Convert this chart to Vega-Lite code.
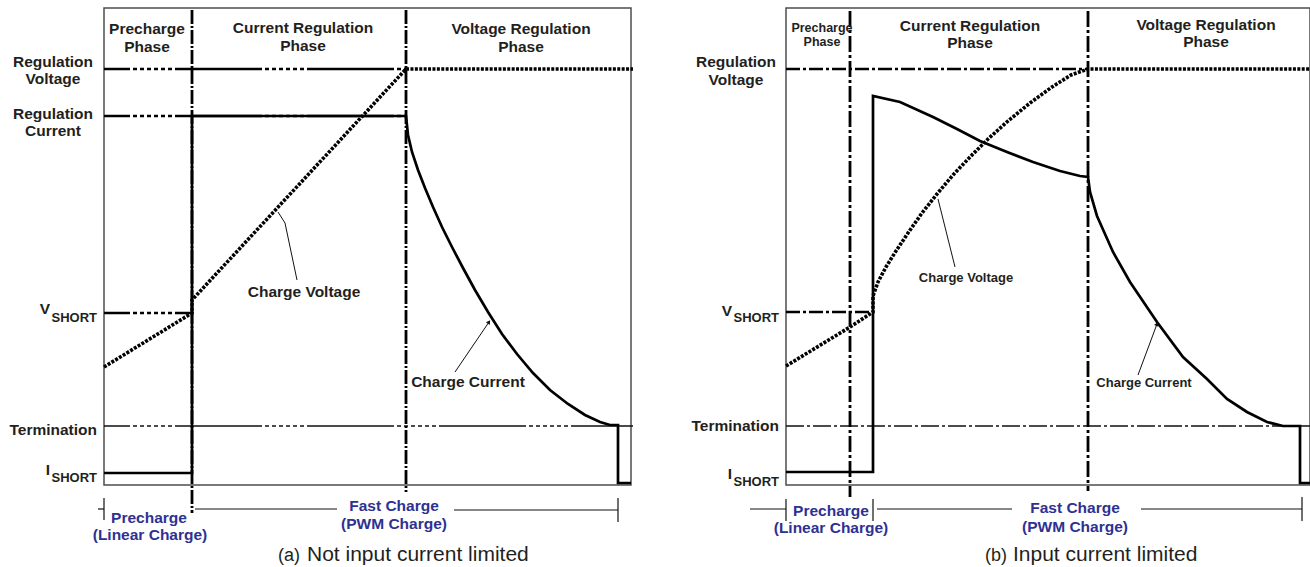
{
  "$schema": "https://vega.github.io/schema/vega-lite/v6.json",
  "padding": {"left": 8, "top": 7, "right": 0, "bottom": 0},
  "bounds": "flush",
  "spacing": 155,
  "config": {"view": {"stroke": "#4d4d4d", "strokeWidth": 1.5}},
  "datasets": {
    "a_ref_heavy": [
      {"name": "Regulation Voltage", "t": 0, "t2": 302, "lvl": 416},
      {"name": "Regulation Current", "t": 0, "t2": 302, "lvl": 369},
      {"name": "V_SHORT", "t": 0, "t2": 88, "lvl": 172}
    ],
    "a_ref_thin": [{"name": "Termination", "t": 0, "t2": 529, "lvl": 59}],
    "a_dividers": [
      {"t": 88, "lvl": 475, "lvl2": -28},
      {"t": 302, "lvl": 475, "lvl2": -7}
    ],
    "a_voltage": [
      {"t": 0, "lvl": 118}, {"t": 88, "lvl": 172}, {"t": 88, "lvl": 185},
      {"t": 302, "lvl": 416}, {"t": 529, "lvl": 416}
    ],
    "a_current": [
      {"t": 0, "lvl": 12}, {"t": 88, "lvl": 12}, {"t": 88, "lvl": 369}, {"t": 302, "lvl": 369},
      {"t": 304, "lvl": 350}, {"t": 308, "lvl": 333}, {"t": 314, "lvl": 315}, {"t": 321, "lvl": 297},
      {"t": 329, "lvl": 278}, {"t": 338, "lvl": 258}, {"t": 348, "lvl": 238}, {"t": 359, "lvl": 217},
      {"t": 371, "lvl": 195}, {"t": 384, "lvl": 173}, {"t": 398, "lvl": 151}, {"t": 413, "lvl": 131},
      {"t": 429, "lvl": 112}, {"t": 446, "lvl": 95}, {"t": 464, "lvl": 81}, {"t": 481, "lvl": 70},
      {"t": 496, "lvl": 63}, {"t": 506, "lvl": 60}, {"t": 514, "lvl": 60}, {"t": 514, "lvl": 2},
      {"t": 527, "lvl": 2}
    ],
    "a_phase": [
      {"label": "Precharge\nPhase", "t": 43, "lvl": 451},
      {"label": "Current Regulation\nPhase", "t": 199, "lvl": 452},
      {"label": "Voltage Regulation\nPhase", "t": 417, "lvl": 451}
    ],
    "a_ylab_center": [
      {"label": "Regulation\nVoltage", "t": -51, "lvl": 418},
      {"label": "Regulation\nCurrent", "t": -51, "lvl": 366}
    ],
    "a_ylab_right": [
      {"label": "Termination", "t": -7, "lvl": 50},
      {"label": "V", "t": -54, "lvl": 171},
      {"label": "I", "t": -54, "lvl": 10}
    ],
    "a_ylab_sub": [
      {"label": "SHORT", "t": -7, "lvl": 163},
      {"label": "SHORT", "t": -7, "lvl": 3}
    ],
    "a_notes": [
      {"label": "Charge Voltage", "t": 200, "lvl": 188},
      {"label": "Charge Current", "t": 364, "lvl": 98}
    ],
    "a_pointers": [
      {"t": 174, "lvl": 273, "t2": 181, "lvl2": 262},
      {"t": 181, "lvl": 262, "t2": 193, "lvl2": 205},
      {"t": 351, "lvl": 113, "t2": 385, "lvl2": 163}
    ],
    "a_pointer_heads": [{"t": 385, "lvl": 163}],
    "a_timeline": [
      {"t": -6, "t2": 0, "lvl": -24, "lvl2": -24},
      {"t": 0, "t2": 0, "lvl": -13, "lvl2": -35},
      {"t": 91, "t2": 233, "lvl": -24, "lvl2": -24},
      {"t": 350, "t2": 514, "lvl": -25, "lvl2": -25},
      {"t": 514, "t2": 514, "lvl": -13, "lvl2": -37}
    ],
    "a_timeline_text": [
      {"label": "Precharge", "t": 45, "lvl": -38},
      {"label": "(Linear Charge)", "t": 46, "lvl": -55},
      {"label": "Fast Charge", "t": 290, "lvl": -26},
      {"label": "(PWM Charge)", "t": 290, "lvl": -44}
    ],
    "a_cap_tag": [{"label": "(a)", "t": 196, "lvl": -76}],
    "a_cap_text": [{"label": "Not input current limited", "t": 203, "lvl": -76}],

    "b_ref_heavy": [
      {"name": "Regulation Voltage", "t": 0, "t2": 302, "lvl": 416},
      {"name": "V_SHORT", "t": 0, "t2": 87, "lvl": 173}
    ],
    "b_ref_thin": [{"name": "Termination", "t": 0, "t2": 524, "lvl": 59}],
    "b_dividers": [
      {"t": 64, "lvl": 474, "lvl2": -12},
      {"t": 302, "lvl": 474, "lvl2": -6}
    ],
    "b_voltage": [
      {"t": 0, "lvl": 119}, {"t": 64, "lvl": 158}, {"t": 87, "lvl": 173}, {"t": 87, "lvl": 189},
      {"t": 92, "lvl": 203}, {"t": 100, "lvl": 218}, {"t": 110, "lvl": 234}, {"t": 122, "lvl": 252},
      {"t": 136, "lvl": 272}, {"t": 151, "lvl": 291}, {"t": 167, "lvl": 310}, {"t": 184, "lvl": 328},
      {"t": 202, "lvl": 346}, {"t": 222, "lvl": 364}, {"t": 244, "lvl": 382}, {"t": 266, "lvl": 398},
      {"t": 285, "lvl": 410}, {"t": 302, "lvl": 416}, {"t": 524, "lvl": 416}
    ],
    "b_current": [
      {"t": 0, "lvl": 13}, {"t": 87, "lvl": 13}, {"t": 87, "lvl": 389}, {"t": 114, "lvl": 383},
      {"t": 147, "lvl": 368}, {"t": 171, "lvl": 356}, {"t": 194, "lvl": 344}, {"t": 221, "lvl": 333},
      {"t": 247, "lvl": 323}, {"t": 274, "lvl": 314}, {"t": 294, "lvl": 309}, {"t": 302, "lvl": 308},
      {"t": 304, "lvl": 293}, {"t": 311, "lvl": 269}, {"t": 327, "lvl": 233}, {"t": 344, "lvl": 203},
      {"t": 371, "lvl": 163}, {"t": 397, "lvl": 128}, {"t": 421, "lvl": 106}, {"t": 441, "lvl": 86},
      {"t": 461, "lvl": 73}, {"t": 481, "lvl": 63}, {"t": 497, "lvl": 59}, {"t": 514, "lvl": 59},
      {"t": 514, "lvl": 2}, {"t": 524, "lvl": 2}
    ],
    "b_phase_small": [{"label": "Precharge\nPhase", "t": 36, "lvl": 453}],
    "b_phase": [
      {"label": "Current Regulation\nPhase", "t": 184, "lvl": 454},
      {"label": "Voltage Regulation\nPhase", "t": 420, "lvl": 455}
    ],
    "b_ylab_center": [{"label": "Regulation\nVoltage", "t": -50, "lvl": 418}],
    "b_ylab_right": [
      {"label": "Termination", "t": -7, "lvl": 54},
      {"label": "V", "t": -54, "lvl": 169},
      {"label": "I", "t": -54, "lvl": 6}
    ],
    "b_ylab_sub": [
      {"label": "SHORT", "t": -7, "lvl": 163},
      {"label": "SHORT", "t": -7, "lvl": -1}
    ],
    "b_notes": [
      {"label": "Charge Voltage", "t": 180, "lvl": 203},
      {"label": "Charge Current", "t": 358, "lvl": 98}
    ],
    "b_pointers": [
      {"t": 152, "lvl": 286, "t2": 169, "lvl2": 218},
      {"t": 352, "lvl": 110, "t2": 371, "lvl2": 161}
    ],
    "b_pointer_heads": [{"t": 371, "lvl": 161}],
    "b_timeline": [
      {"t": -36, "t2": 0, "lvl": -24, "lvl2": -24},
      {"t": 0, "t2": 0, "lvl": -14, "lvl2": -36},
      {"t": 87, "t2": 87, "lvl": -14, "lvl2": -36},
      {"t": 91, "t2": 226, "lvl": -24, "lvl2": -24},
      {"t": 355, "t2": 516, "lvl": -24, "lvl2": -24},
      {"t": 516, "t2": 516, "lvl": -12, "lvl2": -36}
    ],
    "b_timeline_text": [
      {"label": "Precharge", "t": 45, "lvl": -31},
      {"label": "(Linear Charge)", "t": 45, "lvl": -48},
      {"label": "Fast Charge", "t": 289, "lvl": -28},
      {"label": "(PWM Charge)", "t": 289, "lvl": -47}
    ],
    "b_cap_tag": [{"label": "(b)", "t": 221, "lvl": -76}],
    "b_cap_text": [{"label": "Input current limited", "t": 227, "lvl": -76}]
  },
  "hconcat": [
    {
      "width": 527,
      "height": 477,
      "encoding": {
        "x": {"field": "t", "type": "quantitative", "scale": {"domain": [0, 527], "nice": false, "zero": false}, "axis": null},
        "y": {"field": "lvl", "type": "quantitative", "scale": {"domain": [0, 477], "nice": false, "zero": false}, "axis": null}
      },
      "layer": [
        {"data": {"name": "a_ref_thin"}, "mark": {"type": "rule", "clip": false, "color": "#111", "strokeWidth": 1.3, "strokeDash": [87, 3, 4, 3, 4, 3, 4, 3, 4, 3, 4, 3, 4, 3], "strokeDashOffset": 61}, "encoding": {"x2": {"field": "t2"}}},
        {"data": {"name": "a_ref_heavy"}, "mark": {"type": "rule", "clip": false, "color": "#000", "strokeWidth": 2.7, "strokeDash": [87, 3, 4, 3, 4, 3, 4, 3, 4, 3, 4, 3, 4, 3], "strokeDashOffset": 61}, "encoding": {"x2": {"field": "t2"}}},
        {"data": {"name": "a_dividers"}, "mark": {"type": "rule", "clip": false, "color": "#000", "strokeWidth": 2.8, "strokeDash": [14, 2, 2, 2]}, "encoding": {"y2": {"field": "lvl2"}}},
        {"data": {"name": "a_voltage"}, "mark": {"type": "line", "clip": false, "color": "#000", "strokeWidth": 3.6, "strokeDash": [3, 1.4], "strokeCap": "butt"}, "encoding": {"order": {"value": null}}},
        {"data": {"name": "a_current"}, "mark": {"type": "line", "clip": false, "color": "#000", "strokeWidth": 2.7}, "encoding": {"order": {"value": null}}},
        {"data": {"name": "a_phase"}, "mark": {"type": "text", "clip": false, "font": "Liberation Sans", "fontWeight": "bold", "fontSize": 15.5, "lineBreak": "\n", "lineHeight": 18, "align": "center", "baseline": "alphabetic", "color": "#231f20"}, "encoding": {"text": {"field": "label"}}},
        {"data": {"name": "a_ylab_center"}, "mark": {"type": "text", "clip": false, "font": "Liberation Sans", "fontWeight": "bold", "fontSize": 15.5, "lineBreak": "\n", "lineHeight": 17, "align": "center", "baseline": "alphabetic", "color": "#231f20"}, "encoding": {"text": {"field": "label"}}},
        {"data": {"name": "a_ylab_right"}, "mark": {"type": "text", "clip": false, "font": "Liberation Sans", "fontWeight": "bold", "fontSize": 15.5, "align": "right", "baseline": "alphabetic", "color": "#231f20"}, "encoding": {"text": {"field": "label"}}},
        {"data": {"name": "a_ylab_sub"}, "mark": {"type": "text", "clip": false, "font": "Liberation Sans", "fontWeight": "bold", "fontSize": 13, "align": "right", "baseline": "alphabetic", "color": "#231f20"}, "encoding": {"text": {"field": "label"}}},
        {"data": {"name": "a_notes"}, "mark": {"type": "text", "clip": false, "font": "Liberation Sans", "fontWeight": "bold", "fontSize": 15.5, "align": "center", "baseline": "alphabetic", "color": "#231f20"}, "encoding": {"text": {"field": "label"}}},
        {"data": {"name": "a_pointers"}, "mark": {"type": "rule", "clip": false, "color": "#111", "strokeWidth": 1}, "encoding": {"x2": {"field": "t2"}, "y2": {"field": "lvl2"}}},
        {"data": {"name": "a_pointer_heads"}, "mark": {"type": "point", "clip": false, "shape": "triangle-up", "angle": 34, "size": 22, "filled": true, "color": "#111", "opacity": 1}},
        {"data": {"name": "a_timeline"}, "mark": {"type": "rule", "clip": false, "color": "#111", "strokeWidth": 1.2}, "encoding": {"x2": {"field": "t2"}, "y2": {"field": "lvl2"}}},
        {"data": {"name": "a_timeline_text"}, "mark": {"type": "text", "clip": false, "font": "Liberation Sans", "fontWeight": "bold", "fontSize": 15.5, "align": "center", "baseline": "alphabetic", "color": "#2e3192"}, "encoding": {"text": {"field": "label"}}},
        {"data": {"name": "a_cap_tag"}, "mark": {"type": "text", "clip": false, "font": "Liberation Sans", "fontSize": 18, "align": "right", "baseline": "alphabetic", "color": "#231f20"}, "encoding": {"text": {"field": "label"}}},
        {"data": {"name": "a_cap_text"}, "mark": {"type": "text", "clip": false, "font": "Liberation Sans", "fontSize": 21, "align": "left", "baseline": "alphabetic", "color": "#231f20"}, "encoding": {"text": {"field": "label"}}}
      ]
    },
    {
      "width": 524,
      "height": 477,
      "encoding": {
        "x": {"field": "t", "type": "quantitative", "scale": {"domain": [0, 524], "nice": false, "zero": false}, "axis": null},
        "y": {"field": "lvl", "type": "quantitative", "scale": {"domain": [0, 477], "nice": false, "zero": false}, "axis": null}
      },
      "layer": [
        {"data": {"name": "b_ref_thin"}, "mark": {"type": "rule", "clip": false, "color": "#111", "strokeWidth": 1.3, "strokeDash": [18, 3, 3, 3]}, "encoding": {"x2": {"field": "t2"}}},
        {"data": {"name": "b_ref_heavy"}, "mark": {"type": "rule", "clip": false, "color": "#000", "strokeWidth": 2.7, "strokeDash": [14, 3, 3, 3]}, "encoding": {"x2": {"field": "t2"}}},
        {"data": {"name": "b_dividers"}, "mark": {"type": "rule", "clip": false, "color": "#000", "strokeWidth": 2.8, "strokeDash": [16, 3, 3, 3]}, "encoding": {"y2": {"field": "lvl2"}}},
        {"data": {"name": "b_voltage"}, "mark": {"type": "line", "clip": false, "color": "#000", "strokeWidth": 3.6, "strokeDash": [3, 1.4], "strokeCap": "butt"}, "encoding": {"order": {"value": null}}},
        {"data": {"name": "b_current"}, "mark": {"type": "line", "clip": false, "color": "#000", "strokeWidth": 2.7}, "encoding": {"order": {"value": null}}},
        {"data": {"name": "b_phase_small"}, "mark": {"type": "text", "clip": false, "font": "Liberation Sans", "fontWeight": "bold", "fontSize": 12.5, "lineBreak": "\n", "lineHeight": 14, "align": "center", "baseline": "alphabetic", "color": "#231f20"}, "encoding": {"text": {"field": "label"}}},
        {"data": {"name": "b_phase"}, "mark": {"type": "text", "clip": false, "font": "Liberation Sans", "fontWeight": "bold", "fontSize": 15.5, "lineBreak": "\n", "lineHeight": 17, "align": "center", "baseline": "alphabetic", "color": "#231f20"}, "encoding": {"text": {"field": "label"}}},
        {"data": {"name": "b_ylab_center"}, "mark": {"type": "text", "clip": false, "font": "Liberation Sans", "fontWeight": "bold", "fontSize": 15.5, "lineBreak": "\n", "lineHeight": 18, "align": "center", "baseline": "alphabetic", "color": "#231f20"}, "encoding": {"text": {"field": "label"}}},
        {"data": {"name": "b_ylab_right"}, "mark": {"type": "text", "clip": false, "font": "Liberation Sans", "fontWeight": "bold", "fontSize": 15.5, "align": "right", "baseline": "alphabetic", "color": "#231f20"}, "encoding": {"text": {"field": "label"}}},
        {"data": {"name": "b_ylab_sub"}, "mark": {"type": "text", "clip": false, "font": "Liberation Sans", "fontWeight": "bold", "fontSize": 13, "align": "right", "baseline": "alphabetic", "color": "#231f20"}, "encoding": {"text": {"field": "label"}}},
        {"data": {"name": "b_notes"}, "mark": {"type": "text", "clip": false, "font": "Liberation Sans", "fontWeight": "bold", "fontSize": 13, "align": "center", "baseline": "alphabetic", "color": "#231f20"}, "encoding": {"text": {"field": "label"}}},
        {"data": {"name": "b_pointers"}, "mark": {"type": "rule", "clip": false, "color": "#111", "strokeWidth": 1}, "encoding": {"x2": {"field": "t2"}, "y2": {"field": "lvl2"}}},
        {"data": {"name": "b_pointer_heads"}, "mark": {"type": "point", "clip": false, "shape": "triangle-up", "angle": 22, "size": 22, "filled": true, "color": "#111", "opacity": 1}},
        {"data": {"name": "b_timeline"}, "mark": {"type": "rule", "clip": false, "color": "#111", "strokeWidth": 1.2}, "encoding": {"x2": {"field": "t2"}, "y2": {"field": "lvl2"}}},
        {"data": {"name": "b_timeline_text"}, "mark": {"type": "text", "clip": false, "font": "Liberation Sans", "fontWeight": "bold", "fontSize": 15.5, "align": "center", "baseline": "alphabetic", "color": "#2e3192"}, "encoding": {"text": {"field": "label"}}},
        {"data": {"name": "b_cap_tag"}, "mark": {"type": "text", "clip": false, "font": "Liberation Sans", "fontSize": 18, "align": "right", "baseline": "alphabetic", "color": "#231f20"}, "encoding": {"text": {"field": "label"}}},
        {"data": {"name": "b_cap_text"}, "mark": {"type": "text", "clip": false, "font": "Liberation Sans", "fontSize": 21, "align": "left", "baseline": "alphabetic", "color": "#231f20"}, "encoding": {"text": {"field": "label"}}}
      ]
    }
  ]
}
